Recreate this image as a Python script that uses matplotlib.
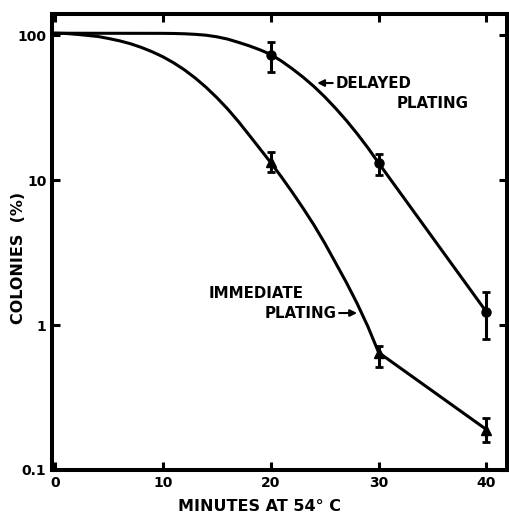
import numpy as np
import matplotlib
matplotlib.use('Agg')
import matplotlib.pyplot as plt

# measured points with error bars (minutes, % colonies)
minutes = [20, 30, 40]
delayed = [72.8, 13.1, 1.23]
delayed_hi = [89.5, 15.1, 1.69]
delayed_lo = [55.6, 10.8, 0.80]
immediate = [13.3, 0.64, 0.19]
immediate_hi = [15.6, 0.716, 0.229]
immediate_lo = [11.3, 0.51, 0.156]

# hand-drawn survival curves
delayed_curve_x = [0, 10, 11, 12, 13, 14, 15, 16, 17, 18, 19, 20, 21, 22, 23, 24, 25,
                   26, 27, 28, 29, 30, 40]
delayed_curve_y = [103, 102.8, 102.6, 102.1, 101.2, 99.8, 97.3, 93.8, 89.1, 84.3, 79.1, 73.5,
                   66.1, 58.5, 51.2, 44.2, 37.5, 31.3, 25.8, 20.9, 16.7, 13.1, 1.23]
immediate_curve_x = [0, 1, 2, 3, 4, 5, 6, 7, 8, 9, 10, 11, 12, 13, 14, 15, 16, 17, 18, 19,
                     20, 21, 22, 23, 24, 25, 26, 27, 28, 29, 30, 40]
immediate_curve_y = [103, 102.6, 101.2, 99.5, 97.7, 94.6, 91.2, 87.1, 82.2, 76.7, 70.8, 64.3,
                     57.5, 50.5, 43.6, 37.0, 30.9, 25.3, 20.4, 16.4, 13.18, 10.47, 8.22, 6.38,
                     4.90, 3.67, 2.69, 1.97, 1.41, 0.977, 0.646, 0.19]

yticks = [0.1, 1, 10, 100]
ytick_labels = ['0.1', '1', '10', '100']
xticks = [0, 10, 20, 30, 40]

fig = plt.figure(figsize=(5.09, 5.15), dpi=100)
ax = fig.add_axes([0.102, 0.0874, 0.894, 0.8856])

lw = 2.2
ax.plot(delayed_curve_x, delayed_curve_y, color='black', lw=lw, solid_joinstyle='round')
ax.plot(immediate_curve_x, immediate_curve_y, color='black', lw=lw, solid_joinstyle='round')

d = np.array(delayed)
ax.errorbar(minutes, delayed,
            yerr=[d - np.array(delayed_lo), np.array(delayed_hi) - d],
            fmt='o', color='black', ms=6.5, elinewidth=2.2, capsize=3, capthick=2)
im = np.array(immediate)
ax.errorbar(minutes, immediate,
            yerr=[im - np.array(immediate_lo), np.array(immediate_hi) - im],
            fmt='^', color='black', ms=7, elinewidth=2.2, capsize=3, capthick=2)

ax.set_yscale('log')
ax.set_xlim(-0.3, 41.9)
ax.set_ylim(0.1, 140)
ax.set_yticks(yticks)
ax.set_yticklabels(ytick_labels)
ax.minorticks_off()
ax.set_xticks(xticks)
ax.set_xticklabels([str(t) for t in xticks])

for s in ax.spines.values():
    s.set_linewidth(2.9)
ax.tick_params(direction='in', length=6, width=2.2, top=True, right=True,
               labelsize=10, pad=4)
for lab in ax.get_xticklabels() + ax.get_yticklabels():
    lab.set_fontweight('bold')

ax.set_xlabel('MINUTES AT 54° C', fontsize=11.5, fontweight='bold', va='top')
ax.xaxis.set_label_coords(0.457, -0.064)
ax.set_ylabel('COLONIES  (%)', fontsize=11.5, fontweight='bold')
ax.yaxis.set_label_coords(-0.058, 0.465)

font = dict(fontsize=10.8, fontweight='bold', va='center')
ax.annotate('DELAYED', xy=(24.3, 46.7), xytext=(26.0, 46.7), ha='left',
            arrowprops=dict(arrowstyle='-|>', color='black', lw=1.5,
                            mutation_scale=10, shrinkA=0, shrinkB=0), **font)
ax.text(31.7, 34, 'PLATING', ha='left', **font)
ax.text(14.2, 1.64, 'IMMEDIATE', ha='left', **font)
ax.annotate('PLATING', xy=(28.0, 1.21), xytext=(19.4, 1.21), ha='left',
            arrowprops=dict(arrowstyle='-|>', color='black', lw=1.5,
                            mutation_scale=10, shrinkA=64, shrinkB=0), **font)

fig.savefig('out.png', dpi=100)
